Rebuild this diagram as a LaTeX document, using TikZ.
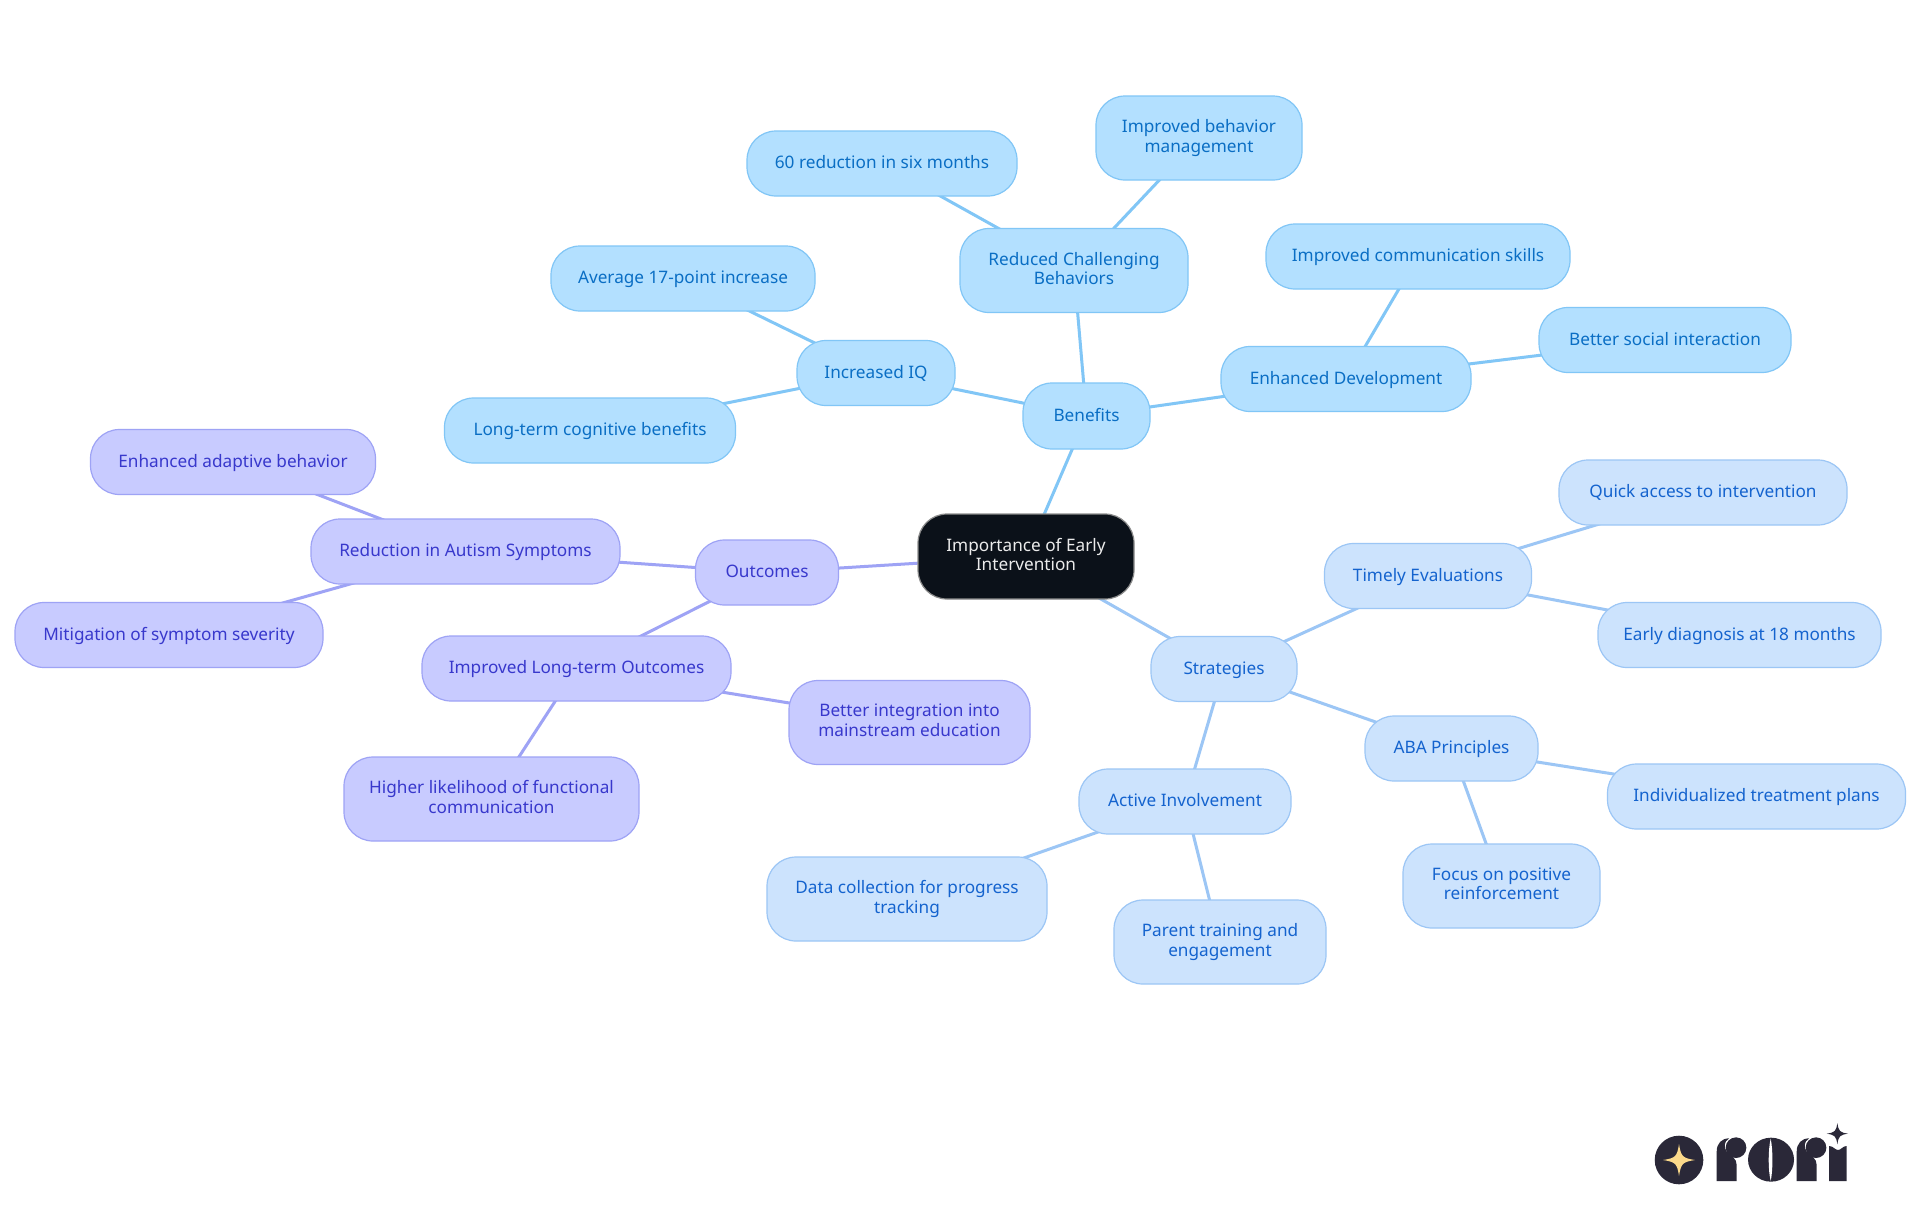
\documentclass[tikz,border=0pt]{standalone}
\usepackage{fontspec}
\setmainfont{Noto Sans}
\usetikzlibrary{backgrounds}
\definecolor{bfill}{HTML}{B3E0FF}\definecolor{bline}{HTML}{81C6F6}\definecolor{btext}{HTML}{0A6EC4}
\definecolor{sfill}{HTML}{CCE3FD}\definecolor{sline}{HTML}{9CC6F5}\definecolor{stext}{HTML}{1463CE}
\definecolor{ofill}{HTML}{C8CBFF}\definecolor{oline}{HTML}{9EA3F5}\definecolor{otext}{HTML}{3838CC}
\definecolor{rootfill}{HTML}{0B1119}\definecolor{logodark}{HTML}{2A2838}\definecolor{logostar}{HTML}{FBD98A}
\newcommand{\mmstrut}{\vrule width 0pt height 7.2pt depth 2.2pt\relax}
\tikzset{
  mm/.style={rectangle,rounded corners=14.5pt,inner sep=0pt,align=center,line width=0.6pt,font=\fontsize{8.6}{9.8}\selectfont,execute at begin node=\mmstrut,execute at end node=\mmstrut},
  bn/.style={mm,fill=bfill,draw=bline,text=btext},
  sn/.style={mm,fill=sfill,draw=sline,text=stext},
  on/.style={mm,fill=ofill,draw=oline,text=otext},
  rn/.style={mm,fill=rootfill,draw=black!45,text=white!92!black},
  be/.style={draw=bline,line width=1.5pt},
  se/.style={draw=sline,line width=1.5pt},
  oe/.style={draw=oline,line width=1.5pt},
  sz/.style 2 args={minimum width=#1*0.5pt,minimum height=#2*0.5pt},
}
\newcommand{\fourstar}[4]{\fill[#4] (#1+#3,#2) .. controls (#1+0.22*#3,#2+0.12*#3) and (#1+0.12*#3,#2+0.22*#3) .. (#1,#2+#3) .. controls (#1-0.12*#3,#2+0.22*#3) and (#1-0.22*#3,#2+0.12*#3) .. (#1-#3,#2) .. controls (#1-0.22*#3,#2-0.12*#3) and (#1-0.12*#3,#2-0.22*#3) .. (#1,#2-#3) .. controls (#1+0.12*#3,#2-0.22*#3) and (#1+0.22*#3,#2-0.12*#3) .. cycle;}
\begin{document}
\begin{tikzpicture}[x=0.5pt,y=-0.5pt]
\useasboundingbox (0,0) rectangle (1920,1215);
\node[rn,sz={216}{85}] (root) at (1026,556.5) {Importance of Early\\Intervention};
\node[bn,sz={127}{66}] (ben) at (1086.5,416) {Benefits};
\node[bn,sz={158}{65}] (iq) at (876,373) {Increased IQ};
\node[bn,sz={264}{65}] (avg) at (683,278.5) {Average 17-point increase};
\node[bn,sz={291}{65}] (cog) at (590,430.5) {Long-term cognitive benefits};
\node[bn,sz={228}{84}] (red) at (1074,270.5) {Reduced Challenging\\Behaviors};
\node[bn,sz={270}{65}] (six) at (882,163.5) {60 reduction in six months};
\node[bn,sz={206}{84}] (beh) at (1199,138) {Improved behavior\\management};
\node[bn,sz={250}{65}] (dev) at (1346,379) {Enhanced Development};
\node[bn,sz={304}{65}] (com) at (1418,256.5) {Improved communication skills};
\node[bn,sz={252}{65}] (soc) at (1665,340) {Better social interaction};
\node[sn,sz={146}{65}] (str) at (1224,669) {Strategies};
\node[sn,sz={207}{65}] (tim) at (1428,576) {Timely Evaluations};
\node[sn,sz={288}{65}] (qui) at (1703,492.5) {Quick access to intervention};
\node[sn,sz={283}{65}] (ear) at (1739.5,635) {Early diagnosis at 18 months};
\node[sn,sz={173}{65}] (aba) at (1451.5,748.5) {ABA Principles};
\node[sn,sz={298}{65}] (ind) at (1756.5,796.5) {Individualized treatment plans};
\node[sn,sz={197}{84}] (foc) at (1501.5,886) {Focus on positive\\reinforcement};
\node[sn,sz={212}{65}] (act) at (1185,801.5) {Active Involvement};
\node[sn,sz={280}{84}] (dat) at (907,899) {Data collection for progress\\tracking};
\node[sn,sz={212}{84}] (par) at (1220,942) {Parent training and\\engagement};
\node[on,sz={143}{65}] (out) at (767,572.5) {Outcomes};
\node[on,sz={309}{65}] (aut) at (465.5,551.5) {Reduction in Autism Symptoms};
\node[on,sz={285}{65}] (ada) at (233,462) {Enhanced adaptive behavior};
\node[on,sz={308}{65}] (mit) at (169,635) {Mitigation of symptom severity};
\node[on,sz={309}{65}] (lon) at (576.5,668.5) {Improved Long-term Outcomes};
\node[on,sz={241}{84}] (int) at (909.5,722.5) {Better integration into\\mainstream education};
\node[on,sz={295}{84}] (hig) at (491.5,799) {Higher likelihood of functional\\communication};
\begin{scope}[on background layer]
\fill[white] (0,0) rectangle (1920,1215);
\draw[be] (root.center)--(ben.center) (ben.center)--(iq.center) (iq.center)--(avg.center) (iq.center)--(cog.center) (ben.center)--(red.center) (red.center)--(six.center) (red.center)--(beh.center) (ben.center)--(dev.center) (dev.center)--(com.center) (dev.center)--(soc.center);
\draw[se] (root.center)--(str.center) (str.center)--(tim.center) (tim.center)--(qui.center) (tim.center)--(ear.center) (str.center)--(aba.center) (aba.center)--(ind.center) (aba.center)--(foc.center) (str.center)--(act.center) (act.center)--(dat.center) (act.center)--(par.center);
\draw[oe] (root.center)--(out.center) (out.center)--(aut.center) (aut.center)--(ada.center) (aut.center)--(mit.center) (out.center)--(lon.center) (lon.center)--(int.center) (lon.center)--(hig.center);
\end{scope}
% logo
\fill[logodark] (1679,1160) circle (24.3);
\fourstar{1679}{1160}{16}{logostar}
\begin{scope}[shift={(1620,1100)},x=0.16667pt,y=-0.16667pt]
\foreach \d in {0,240}{
 \fill[logodark] (290+\d,243) -- (290+\d,155) .. controls (290+\d,130) and (305+\d,115) .. (327+\d,115) .. controls (312+\d,125) and (310+\d,140) .. (320+\d,155) .. controls (335+\d,170) and (350+\d,175) .. (350+\d,195) -- (350+\d,243) -- cycle;
 \fill[logodark] (348+\d,143) circle (31);
}
\fill[logodark] (453,179) ellipse (69 and 66);
\fill[white] (452,116) .. controls (444,150) and (444,210) .. (452,243) .. controls (459,210) and (459,150) .. (452,116) -- cycle;
\fill[logodark] (627,243) -- (627,138) .. controls (640,138) and (645,150) .. (654,150) .. controls (663,150) and (668,138) .. (680,138) -- (680,243) -- cycle;
\fourstar{652}{101}{32}{logodark}
\end{scope}
\end{tikzpicture}
\end{document}
